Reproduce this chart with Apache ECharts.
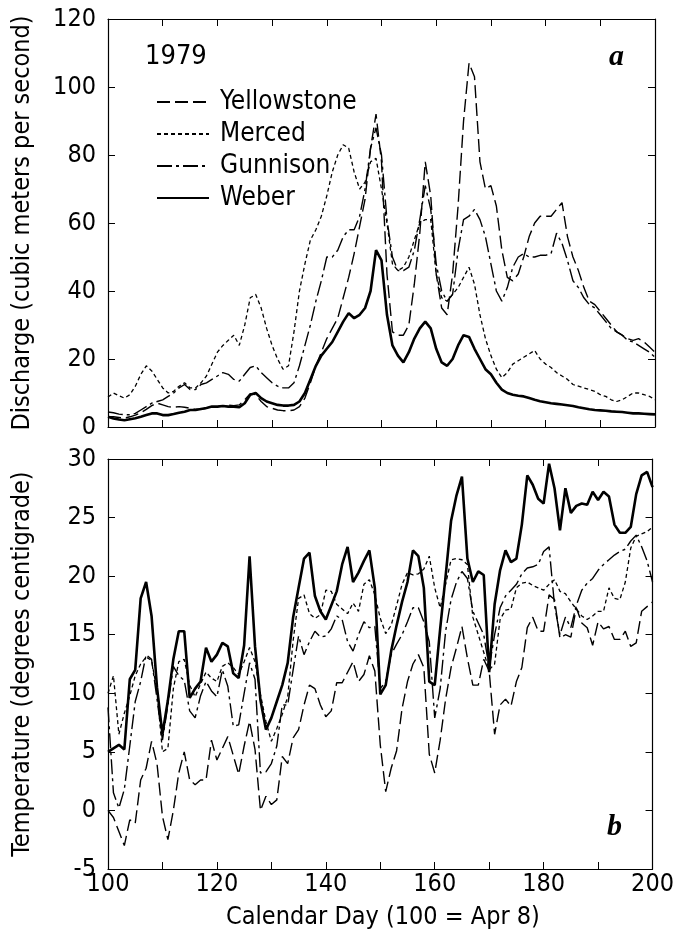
<!DOCTYPE html>
<html><head><meta charset="utf-8">
<script src="https://cdn.jsdelivr.net/npm/echarts@6/dist/echarts.min.js"></script>
<style>html,body{margin:0;padding:0;background:#fff}#c{width:677px;height:946px}</style>
</head><body><div id="c"></div>
<script>
// Calendar days 100..200 (one value per day)
const firstDay = 100;

// Panel a: discharge (cubic meters per second)
const qYellowstone = [3.0,3.0,2.8,2.6,3.0,3.5,4.2,5.2,6.3,7.0,6.5,6.0,5.8,6.0,5.8,5.5,5.2,5.2,5.5,5.8,6.0,6.2,6.4,6.3,6.5,8.0,9.8,9.5,7.5,6.0,5.5,5.0,4.8,4.8,5.0,6.0,8.5,13.0,18.0,22.0,26.0,29.0,32.0,38.0,44.0,51.0,59.0,67.0,82.0,92.0,78.0,45.0,28.0,27.0,27.0,30.0,42.0,57.0,78.0,68.0,45.0,35.0,33.0,45.0,65.0,90.0,107.0,103.0,78.0,70.0,71.0,65.0,52.0,44.0,43.0,45.0,50.0,56.0,60.0,62.0,62.0,62.0,64.0,66.0,56.0,50.0,46.0,41.0,37.0,36.0,34.0,32.0,30.0,28.0,27.0,26.0,25.5,26.0,25.0,23.5,22.0];
const qMerced = [8.8,10.0,9.2,8.5,9.5,12.0,15.5,18.0,16.5,14.0,11.5,10.0,10.5,12.0,13.0,11.5,11.5,13.0,15.0,18.5,22.0,24.0,25.5,27.0,24.0,30.0,38.0,39.0,35.0,29.0,24.0,20.0,17.0,18.0,28.0,40.0,48.0,55.0,58.0,62.0,68.0,75.0,80.0,83.0,82.0,75.0,70.0,72.0,78.0,79.0,70.0,60.0,48.0,46.0,47.0,50.0,55.0,60.0,61.0,61.0,45.0,38.0,37.0,39.0,41.0,44.0,47.0,42.0,33.0,26.0,21.0,17.0,14.5,16.0,18.5,19.5,20.5,21.5,22.5,20.0,18.5,17.5,16.0,15.0,14.0,12.5,12.0,11.5,11.0,10.5,9.5,9.0,8.0,7.5,8.0,9.0,10.0,10.0,9.5,9.0,8.0];
const qGunnison = [4.4,4.2,3.8,3.6,3.6,4.0,5.0,6.0,7.0,7.5,8.0,9.0,10.0,11.5,12.5,11.0,11.0,12.5,13.0,14.0,15.0,16.0,15.5,14.0,13.5,15.5,17.5,18.0,16.0,14.5,13.0,12.0,11.5,11.5,13.0,18.0,24.0,30.0,37.0,43.0,50.0,50.0,52.0,56.0,58.0,58.0,62.0,70.0,82.0,88.0,80.0,61.0,50.0,46.0,46.0,47.0,52.0,61.0,71.0,64.0,48.0,40.0,37.0,39.0,52.0,61.0,62.0,64.0,61.0,56.0,48.0,40.0,37.0,41.0,47.0,50.0,51.0,50.0,50.0,50.5,50.5,51.0,57.0,54.0,49.0,43.0,41.0,38.0,36.0,35.0,33.0,31.0,29.0,28.0,27.0,25.5,25.0,24.0,23.0,22.0,20.5];
const qWeber = [3.0,2.5,2.2,2.0,2.3,2.6,3.0,3.5,4.0,4.0,3.5,3.5,3.8,4.2,4.5,5.0,5.0,5.3,5.6,6.0,6.0,6.2,6.0,6.0,5.8,7.0,9.5,10.0,8.5,7.5,7.0,6.5,6.3,6.3,6.5,7.5,10.0,14.0,18.0,21.0,23.0,25.0,28.0,31.0,33.5,32.0,33.0,35.0,40.0,52.0,49.0,33.0,24.0,21.0,19.0,22.0,26.0,29.0,31.0,29.0,23.0,19.0,18.0,20.0,24.0,27.0,26.5,23.0,20.0,17.0,15.5,13.0,11.0,10.0,9.5,9.2,9.0,8.5,8.0,7.6,7.3,7.0,6.8,6.6,6.4,6.2,5.8,5.5,5.2,5.0,4.9,4.8,4.6,4.5,4.4,4.2,4.0,4.0,3.9,3.8,3.7];

// Panel b: temperature (degrees centigrade)
const tYellowstone = [0.0,-0.6,-1.8,-3.0,-0.8,-1.1,2.6,3.6,5.9,4.0,-0.5,-2.5,0.0,3.2,5.0,2.6,2.2,2.6,2.6,6.0,4.3,5.3,6.3,4.7,3.1,5.5,7.6,5.2,0.0,1.2,0.5,0.9,4.6,4.0,6.2,6.9,9.0,10.7,10.4,9.0,8.0,8.5,10.9,10.9,11.8,12.7,11.0,11.6,13.2,11.9,5.6,1.6,3.6,5.1,8.7,11.0,12.5,13.3,12.2,4.8,3.2,6.0,9.5,12.2,13.9,15.7,13.0,10.7,10.7,12.9,11.9,6.5,9.0,9.5,8.9,11.0,12.2,15.6,16.5,15.3,15.3,18.4,18.0,14.7,15.0,14.8,17.3,16.0,15.6,14.1,16.1,15.5,15.7,14.6,14.6,15.3,14.0,14.3,17.0,17.4,17.8];
const tMerced = [10.0,11.5,6.5,8.3,9.8,11.5,12.5,13.1,12.8,10.2,5.0,5.3,10.4,12.7,12.9,10.7,9.7,10.8,11.8,11.3,11.0,12.3,12.6,12.2,11.6,12.7,13.9,12.7,9.9,7.6,5.9,7.0,8.2,9.7,14.5,18.1,18.4,16.8,16.4,16.7,18.8,18.7,17.6,17.2,16.8,17.7,17.0,19.3,19.7,18.4,16.4,15.1,15.8,17.5,19.3,20.3,20.1,20.2,20.6,21.7,19.0,17.3,19.3,21.4,21.5,21.4,21.0,16.5,15.0,13.5,12.0,12.5,16.3,17.1,17.2,19.0,19.4,19.5,19.2,19.0,18.8,19.3,19.7,18.7,18.5,17.8,17.2,16.6,16.3,16.6,17.0,17.0,19.0,18.1,18.0,19.5,22.4,23.4,23.6,23.8,24.2];
const tGunnison = [8.8,1.5,0.2,1.8,5.5,9.3,11.0,13.3,12.9,9.5,6.0,9.0,12.3,11.5,11.1,8.5,7.9,9.8,11.0,10.2,9.7,12.0,10.6,7.2,7.3,10.0,12.6,11.2,3.2,3.3,4.0,5.5,9.0,9.0,12.0,14.9,13.3,14.4,15.3,14.8,14.9,15.5,16.6,16.3,14.4,13.6,15.0,16.1,15.6,15.7,10.4,11.0,13.3,14.2,15.0,16.1,17.3,17.3,16.1,14.4,7.9,10.4,15.3,18.0,19.5,20.4,19.8,17.0,16.0,15.0,12.2,15.0,17.3,18.3,18.8,19.3,20.2,20.7,20.8,21.0,22.1,22.5,17.5,15.0,16.5,15.6,17.5,18.8,19.4,19.8,20.5,21.0,21.4,21.8,22.1,22.3,23.0,23.5,22.5,21.3,19.5];
const tWeber = [5.0,5.3,5.6,5.2,11.2,12.0,18.1,19.5,16.6,10.5,6.5,9.4,12.9,15.3,15.3,9.6,10.4,11.0,13.9,12.7,13.3,14.3,14.0,11.7,11.3,14.1,21.7,14.0,9.4,6.9,7.9,9.3,10.7,12.6,16.5,19.0,21.5,22.0,18.3,17.0,16.3,17.5,18.7,21.0,22.5,19.5,20.3,21.3,22.2,19.0,9.9,10.7,13.6,15.8,17.8,19.5,22.2,21.7,19.0,11.0,10.7,15.5,20.0,24.7,26.9,28.5,21.5,19.5,20.4,20.1,11.8,17.6,20.5,22.2,21.2,21.5,24.4,28.6,27.8,26.6,26.2,29.6,27.5,23.9,27.5,25.4,26.0,26.2,26.1,27.2,26.5,27.2,26.8,24.4,23.7,23.7,24.2,27.0,28.6,28.9,27.6];

const rivers = ['Yellowstone','Merced','Gunnison','Weber'];
const dischargeByRiver = {Yellowstone:qYellowstone, Merced:qMerced, Gunnison:qGunnison, Weber:qWeber};
const tempByRiver = {Yellowstone:tYellowstone, Merced:tMerced, Gunnison:tGunnison, Weber:tWeber};

const FONT = "'Liberation Sans Narrow','DejaVu Sans Condensed','Liberation Sans',sans-serif";
const lineStyles = {
  Yellowstone: {color:'#000', width:1.4, type:[13,5]},
  Merced: {color:'#000', width:1.3, type:[4,3]},
  Gunnison: {color:'#000', width:1.4, type:[15,4,3,4]},
  Weber: {color:'#000', width:2.6, type:'solid'}
};
function pairs(arr){ return arr.map((v,i)=>[firstDay+i, v]); }

const chart = echarts.init(document.getElementById('c'), null, {renderer:'canvas'});

const grids = [
  {left:108, right:22, top:19, height:408},
  {left:108, right:22, top:459, height:410}
];
function xAx(g, pos, labels){
  return {gridIndex:g, type:'value', min:100, max:200, interval:10, position:pos,
    axisLine:{show:true, onZero:false, lineStyle:{color:'#000', width:1.2}},
    axisTick:{show:true, inside:true, length:7, lineStyle:{color:'#000', width:1}},
    axisLabel:{show:labels, formatter:v=> (v%20===0? String(v):''), color:'#000', fontSize:25, fontFamily:FONT, margin:3},
    splitLine:{show:false}};
}
function yAx(g, pos, labels, min, max, step){
  return {gridIndex:g, type:'value', min:min, max:max, interval:step, position:pos,
    axisLine:{show:true, onZero:false, lineStyle:{color:'#000', width:1.2}},
    axisTick:{show:true, inside:true, length:7, lineStyle:{color:'#000', width:1}},
    axisLabel:{show:labels, color:'#000', fontSize:25, fontFamily:FONT, margin:12},
    splitLine:{show:false}};
}

const series = [];
rivers.forEach(r=>{
  series.push({name:r, type:'line', xAxisIndex:0, yAxisIndex:0, data:pairs(dischargeByRiver[r]),
    symbol:'none', smooth:false, lineStyle:lineStyles[r], itemStyle:{color:'#000'}, z: r==='Weber'?5:3, animation:false});
  series.push({name:r, type:'line', xAxisIndex:2, yAxisIndex:2, data:pairs(tempByRiver[r]),
    symbol:'none', smooth:false, lineStyle:lineStyles[r], itemStyle:{color:'#000'}, z: r==='Weber'?5:3, animation:false});
});

chart.setOption({
  backgroundColor:'#fff',
  animation:false,
  grid:grids,
  xAxis:[xAx(0,'bottom',false), xAx(0,'top',false), xAx(1,'bottom',true), xAx(1,'top',false)],
  yAxis:[yAx(0,'left',true,0,120,20), yAx(0,'right',false,0,120,20), yAx(1,'left',true,-5,30,5), yAx(1,'right',false,-5,30,5)],
  legend:{data:rivers, orient:'vertical', left:151, top:84, itemWidth:52, itemHeight:14, itemGap:6,
    itemStyle:{opacity:0},
    textStyle:{color:'#000', fontSize:26, fontFamily:FONT, padding:[0,0,0,6]}, selectedMode:false},
  series:series,
  graphic:[
    {type:'text', left:145, top:43, style:{text:'1979', font:"27px "+FONT, fill:'#000'}},
    {type:'text', left:609, top:42, style:{text:'a', font:"italic bold 30px 'Liberation Serif', serif", fill:'#000'}},
    {type:'text', left:607, top:812, style:{text:'b', font:"italic bold 30px 'Liberation Serif', serif", fill:'#000'}},
    {type:'text', x:22, y:223, rotation:Math.PI/2, style:{text:'Discharge (cubic meters per second)', font:"25px "+FONT, fill:'#000', align:'center', verticalAlign:'middle'}},
    {type:'text', x:22, y:664, rotation:Math.PI/2, style:{text:'Temperature (degrees centigrade)', font:"25px "+FONT, fill:'#000', align:'center', verticalAlign:'middle'}},
    {type:'text', x:383, y:917, style:{text:'Calendar Day (100 = Apr 8)', font:"25px "+FONT, fill:'#000', align:'center', verticalAlign:'middle'}}
  ]
});
</script></body></html>
